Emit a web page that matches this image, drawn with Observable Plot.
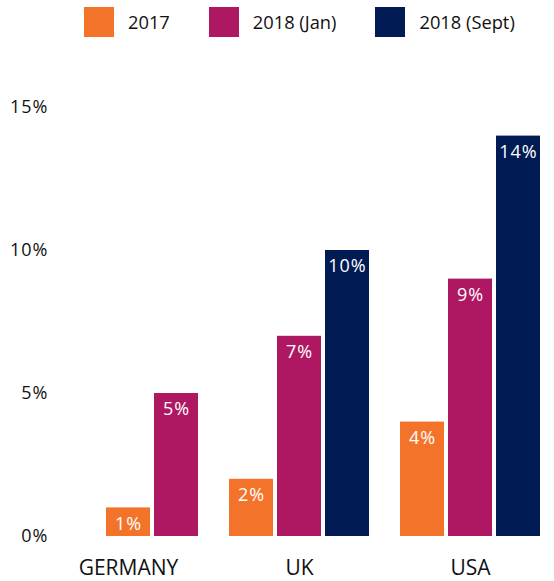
<!DOCTYPE html>
<html><head><meta charset="utf-8">
<script src="https://cdn.jsdelivr.net/npm/d3@7"></script>
<script src="https://cdn.jsdelivr.net/npm/@observablehq/plot@0.6"></script>
<style>
body{margin:0;background:#fff;}
#legend{height:60px;padding-top:5px;padding-left:84px;box-sizing:border-box;overflow:hidden;}
#legend .lg-swatches{flex-wrap:nowrap !important;white-space:nowrap;}
#legend .lg-swatch{margin-right:39px !important;flex-shrink:0;}
#legend .lg-swatch:last-child{margin-right:0 !important;}
#legend .lg-swatch > svg{margin-right:14px !important;}
#chart svg{display:block;}
#chart .num text{letter-spacing:1px;}
</style></head><body><div id="legend"></div><div id="chart"></div>
<script>
const countries = ["GERMANY", "UK", "USA"];
const seriesNames = ["2017", "2018 (Jan)", "2018 (Sept)"];
const values2017 = [1, 2, 4];
const valuesJan = [5, 7, 9];
const valuesSept = [null, 10, 14];
const colors = ["#F4732B", "#AE1862", "#001B54"];
const yTicks = [0, 5, 10, 15];

const seriesValues = [values2017, valuesJan, valuesSept];
const data = [];
countries.forEach((c, ci) => {
  const present = seriesNames
    .map((s, si) => ({country: c, series: s, value: seriesValues[si][ci]}))
    .filter(d => d.value != null);
  // bars are right-aligned within each country's group
  present.forEach((d, i) => { d.slot = seriesNames.length - present.length + i; data.push(d); });
});

const font = "'Open Sans', sans-serif";

const legend = Plot.legend({
  color: {domain: seriesNames, range: colors},
  legend: "swatches",
  swatchSize: 30,
  className: "lg",
  style: {fontFamily: font, fontSize: "18.3px", color: "#111"}
});
document.getElementById("legend").append(legend);

const chart = Plot.plot({
  width: 554,
  height: 521,
  marginLeft: 57,
  marginRight: 12,
  marginTop: 47,
  marginBottom: 45,
  style: {fontFamily: font, fontSize: "17px", color: "#111", background: "#fff"},
  fx: {domain: countries, paddingInner: 0.18, paddingOuter: 0, label: null, axis: null},
  x: {domain: [0, 1, 2], paddingInner: 0.09, paddingOuter: 0, axis: null},
  y: {domain: [0, 15], axis: null},
  color: {domain: seriesNames, range: colors},
  marks: [
    Plot.axisFx({anchor: "bottom", tickSize: 0, tickPadding: 24, fontSize: 21, label: null}),
    Plot.axisY({ticks: yTicks, tickFormat: d => d + "%", tickSize: 0, tickPadding: 10, fontSize: 18, label: null, className: "num"}),
    Plot.barY(data, {fx: "country", x: "slot", y: "value", fill: "series"}),
    Plot.text(data, {fx: "country", x: "slot", y: "value", text: d => d.value + "%", fill: "white", lineAnchor: "top", dy: 9, fontSize: 18, className: "num"})
  ]
});
document.getElementById("chart").append(chart);
</script>
</body></html>
